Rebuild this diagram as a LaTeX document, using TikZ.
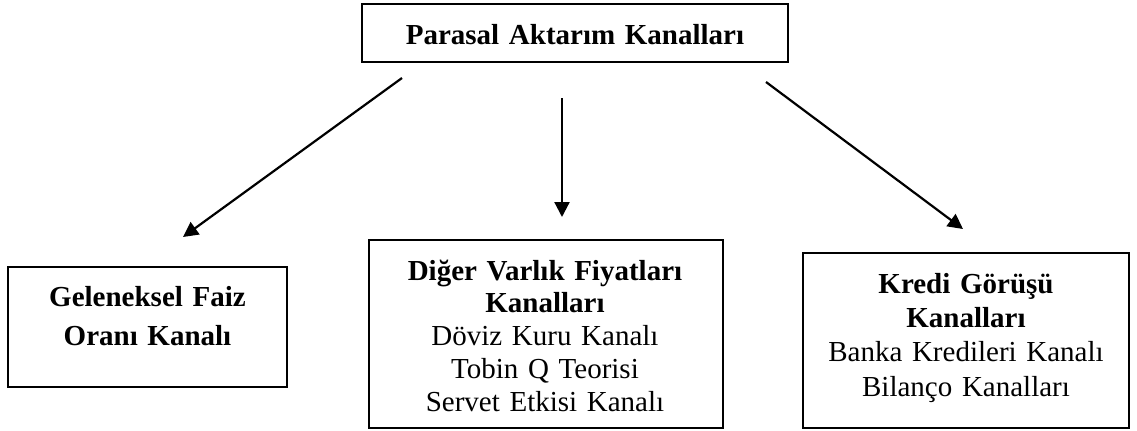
\documentclass[tikz,border=0pt]{standalone}
\usepackage{fontspec}
\setmainfont{Liberation Serif}
\usetikzlibrary{arrows.meta}

\begin{document}
\begin{tikzpicture}[x=0.5pt,y=-0.5pt,
  box/.style={draw, line width=0.85pt, inner sep=0pt, rectangle},
  label/.style={anchor=base, inner sep=0pt, align=center},
  link/.style={line width=1.1pt, -{Triangle[length=7.5pt,width=7.5pt]}}
]
\useasboundingbox (0,0) rectangle (1137,430);

% boxes
\node[box, minimum width=213pt, minimum height=29pt] (top) at (575,33) {};
\node[box, minimum width=139.5pt, minimum height=60pt] (left) at (147.5,327) {};
\node[box, minimum width=177pt, minimum height=94pt] (mid) at (546,334) {};
\node[box, minimum width=163pt, minimum height=87.5pt] (right) at (966,340.5) {};

% texts
\node[label, text width=200pt, font={\fontsize{14.5}{16.5}\selectfont\bfseries}] (toptext) at (575,44)
  {Parasal Aktarım Kanalları};
\node[label, text width=135pt, font={\fontsize{14.5}{19.5}\selectfont}] (lefttext) at (147.5,306)
  {\textbf{Geleneksel Faiz}\\\textbf{Oranı Kanalı}};
\node[label, text width=172pt, font={\fontsize{14.5}{16.4}\selectfont}] (midtext) at (545,280)
  {\textbf{Diğer Varlık Fiyatları}\\\textbf{Kanalları}\\Döviz Kuru Kanalı\\Tobin Q Teorisi\\Servet Etkisi Kanalı};
\node[label, text width=158pt, font={\fontsize{14.5}{17.2}\selectfont}] (righttext) at (966,293)
  {\textbf{Kredi Görüşü}\\\textbf{Kanalları}\\Banka Kredileri Kanalı\\Bilanço Kanalları};

% arrow end points
\coordinate (s1) at (402,78);
\coordinate (e1) at (183,237);
\coordinate (s2) at (562,98);
\coordinate (e2) at (562,217);
\coordinate (s3) at (766,82);
\coordinate (e3) at (963,229);

\draw[link] (s1) -- (e1);
\draw[link] (s2) -- (e2);
\draw[link] (s3) -- (e3);
\end{tikzpicture}
\end{document}
